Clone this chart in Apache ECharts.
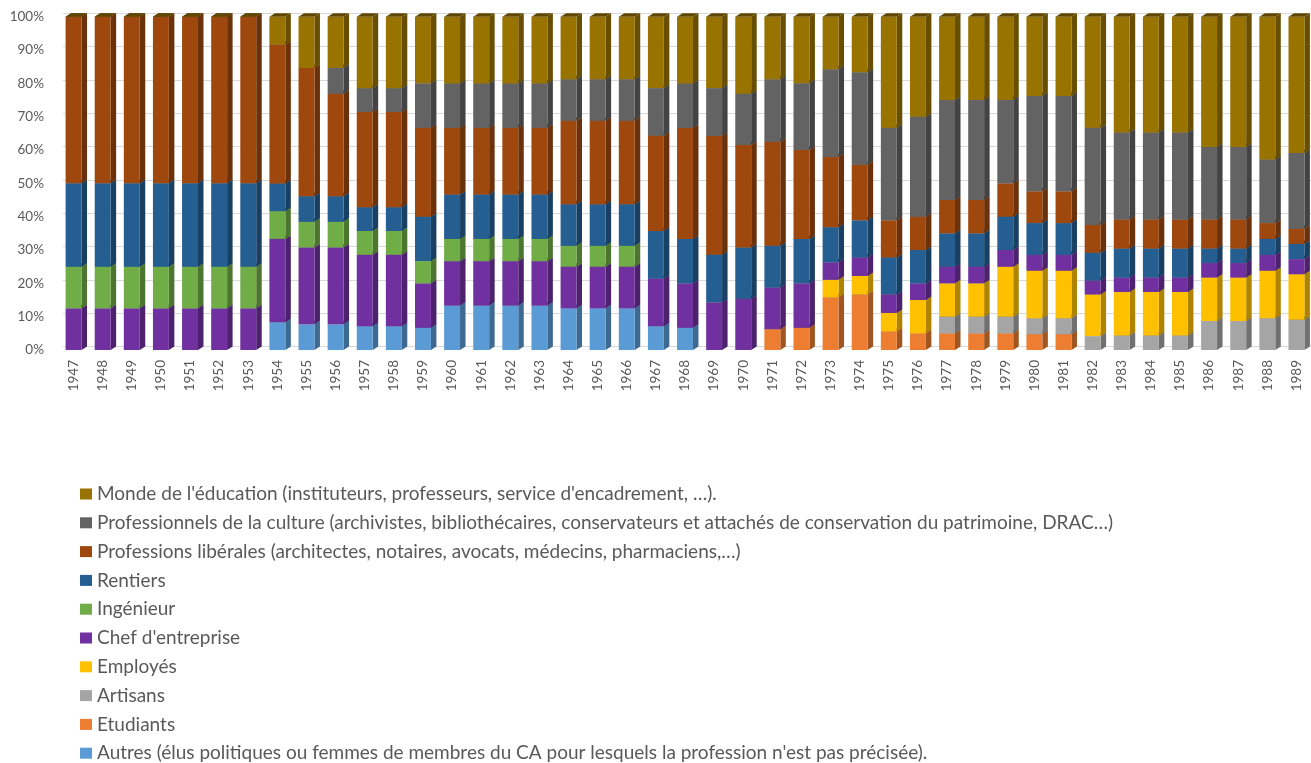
<!DOCTYPE html>
<html><head><meta charset="utf-8">
<script src="https://cdn.jsdelivr.net/npm/echarts@6/dist/echarts.min.js"></script>
<style>html,body{margin:0;padding:0;background:#fff}#c{width:1311px;height:763px}</style>
</head><body><div id="c"></div>
<script>
var years = ['1947','1948','1949','1950','1951','1952','1953','1954','1955','1956','1957','1958','1959','1960','1961','1962','1963','1964','1965','1966','1967','1968','1969','1970','1971','1972','1973','1974','1975','1976','1977','1978','1979','1980','1981','1982','1983','1984','1985','1986','1987','1988','1989'];
var yTicks = ['0%','10%','20%','30%','40%','50%','60%','70%','80%','90%','100%'];

var autres = [0,0,0,0,0,0,0,8.33,7.69,7.69,7.14,7.14,6.67,13.33,13.33,13.33,13.33,12.5,12.5,12.5,7.14,6.67,0,0,0,0,0,0,0,0,0,0,0,0,0,0,0,0,0,0,0,0,0];
var etudiants = [0,0,0,0,0,0,0,0,0,0,0,0,0,0,0,0,0,0,0,0,0,0,0,0,6.25,6.67,15.79,16.67,5.56,5,5,5,5,4.76,4.76,0,0,0,0,0,0,0,0];
var artisans = [0,0,0,0,0,0,0,0,0,0,0,0,0,0,0,0,0,0,0,0,0,0,0,0,0,0,0,0,0,0,5,5,5,4.76,4.76,4.17,4.35,4.35,4.35,8.7,8.7,9.52,9.09];
var employes = [0,0,0,0,0,0,0,0,0,0,0,0,0,0,0,0,0,0,0,0,0,0,0,0,0,0,5.26,5.56,5.56,10,10,10,15,14.29,14.29,12.5,13.04,13.04,13.04,13.04,13.04,14.29,13.64];
var chef = [12.5,12.5,12.5,12.5,12.5,12.5,12.5,25,23.08,23.08,21.43,21.43,13.33,13.33,13.33,13.33,13.33,12.5,12.5,12.5,14.29,13.33,14.29,15.38,12.5,13.33,5.26,5.56,5.56,5,5,5,5,4.76,4.76,4.17,4.35,4.35,4.35,4.35,4.35,4.76,4.55];
var ingenieur = [12.5,12.5,12.5,12.5,12.5,12.5,12.5,8.33,7.69,7.69,7.14,7.14,6.67,6.67,6.67,6.67,6.67,6.25,6.25,6.25,0,0,0,0,0,0,0,0,0,0,0,0,0,0,0,0,0,0,0,0,0,0,0];
var rentiers = [25,25,25,25,25,25,25,8.33,7.69,7.69,7.14,7.14,13.33,13.33,13.33,13.33,13.33,12.5,12.5,12.5,14.29,13.33,14.29,15.38,12.5,13.33,10.53,11.11,11.11,10,10,10,10,9.52,9.52,8.33,8.7,8.7,8.7,4.35,4.35,4.76,4.55];
var liberales = [50,50,50,50,50,50,50,41.67,38.46,30.77,28.57,28.57,26.67,20,20,20,20,25,25,25,28.57,33.33,35.71,30.77,31.25,26.67,21.05,16.67,11.11,10,10,10,10,9.52,9.52,8.33,8.7,8.7,8.7,8.7,8.7,4.76,4.55];
var culture = [0,0,0,0,0,0,0,0,0,7.69,7.14,7.14,13.33,13.33,13.33,13.33,13.33,12.5,12.5,12.5,14.29,13.33,14.29,15.38,18.75,20,26.32,27.78,27.78,30,30,30,25,28.57,28.57,29.17,26.09,26.09,26.09,21.74,21.74,19.05,22.73];
var education = [0,0,0,0,0,0,0,8.33,15.38,15.38,21.43,21.43,20,20,20,20,20,18.75,18.75,18.75,21.43,20,21.43,23.08,18.75,20,15.79,16.67,33.33,30,25,25,25,23.81,23.81,33.33,34.78,34.78,34.78,39.13,39.13,42.86,40.91];

var names = [
  "Autres (élus politiques ou femmes de membres du CA pour lesquels la profession n'est pas précisée).",
  "Etudiants",
  "Artisans",
  "Employés",
  "Chef d'entreprise",
  "Ingénieur",
  "Rentiers",
  "Professions libérales (architectes, notaires, avocats, médecins, pharmaciens,…)",
  "Professionnels de la culture (archivistes, bibliothécaires, conservateurs et attachés de conservation du patrimoine, DRAC…)",
  "Monde de l'éducation (instituteurs, professeurs, service d'encadrement, …)."
];
var values = [autres, etudiants, artisans, employes, chef, ingenieur, rentiers, liberales, culture, education];
var colors = ['#5B9BD5','#ED7D31','#A5A5A5','#FFC000','#7030A0','#70AD47','#255E91','#9E480E','#636363','#997300'];

function shade(hex, f) {
  var n = parseInt(hex.slice(1), 16);
  var r = Math.round(((n >> 16) & 255) * f), g = Math.round(((n >> 8) & 255) * f), b = Math.round((n & 255) * f);
  return 'rgb(' + r + ',' + g + ',' + b + ')';
}

var cum = years.map(function(){ return 0; });
var series = [];
values.forEach(function(arr, si) {
  var data = arr.map(function(v, i) { var lo = cum[i]; cum[i] += v; return [i, lo, lo + v]; });
  var col = colors[si], side = shade(col, 0.68), top = shade(col, 0.62);
  var isLast = si === values.length - 1;
  series.push({
    name: names[si], type: 'custom', coordinateSystem: 'cartesian2d', xAxisIndex: 0, yAxisIndex: 0,
    itemStyle: { color: col },
    encode: { x: 0, y: [1, 2] },
    data: data,
    renderItem: function(params, api) {
      var cat = api.value(0), lo = api.value(1), hi = api.value(2);
      var p0 = api.coord([cat, lo]), p1 = api.coord([cat, hi]);
      var bw = api.size([1, 0])[0] * 0.547, dx = 5.5, dy = 3.5;
      var x0 = p0[0] - bw / 2, x1 = x0 + bw, yb = p0[1], yt = p1[1];
      var ch = [];
      if (hi - lo > 0.0001) {
        ch.push({ type: 'polygon', shape: { points: [[x1, yb], [x1 + dx, yb - dy], [x1 + dx, yt - dy], [x1, yt]] }, style: { fill: side } });
        ch.push({ type: 'rect', shape: { x: x0, y: yt, width: bw, height: yb - yt }, style: { fill: col } });
        ch.push({ type: 'polygon', shape: { points: [[x0, yt], [x0 + dx, yt - dy], [x1 + dx, yt - dy], [x1, yt]] }, style: { fill: top } });
      } else if (isLast) {
        ch.push({ type: 'polygon', shape: { points: [[x0, yt], [x0 + dx, yt - dy], [x1 + dx, yt - dy], [x1, yt]] }, style: { fill: top } });
      }
      return { type: 'group', children: ch };
    },
    z: 3
  });
});

var chart = echarts.init(document.getElementById('c'), null, { renderer: 'canvas' });
chart.setOption({
  animation: false,
  backgroundColor: '#ffffff',
  grid: [
    { left: 59, width: 1258.6, top: 16.7, bottom: 413, containLabel: false },
    { left: 63, right: 0, top: 13.2, bottom: 416.5, containLabel: false }
  ],
  xAxis: [
    { type: 'category', gridIndex: 0, data: years, boundaryGap: true,
      axisLine: { show: false }, axisTick: { show: false }, splitLine: { show: false },
      axisLabel: { rotate: 90, color: '#595959', fontSize: 13.5, fontFamily: 'Lato, Open Sans, sans-serif', margin: 10, interval: 0 } },
    { type: 'value', gridIndex: 1, min: 0, max: 1, show: false }
  ],
  yAxis: [
    { type: 'value', gridIndex: 0, min: 0, max: 100, interval: 10,
      axisLine: { show: false }, axisTick: { show: false }, splitLine: { show: false },
      axisLabel: { color: '#595959', fontSize: 13.5, fontFamily: 'Lato, Open Sans, sans-serif', margin: 15,
        formatter: function(v) { return yTicks[Math.round(v / 10)]; } } },
    { type: 'value', gridIndex: 1, min: 0, max: 100, interval: 10,
      axisLine: { show: false }, axisTick: { show: false }, axisLabel: { show: false },
      splitLine: { show: true, lineStyle: { color: '#D9D9D9', width: 1 } } }
  ],
  legend: {
    orient: 'vertical', left: 80, top: 484.5, height: 300, padding: 0,
    data: names.slice().reverse(),
    icon: 'rect', itemWidth: 12, itemHeight: 11, itemGap: 9.8,
    selectedMode: false,
    textStyle: { color: '#595959', fontSize: 19, lineHeight: 19, fontFamily: 'Lato, Open Sans, sans-serif' }
  },
  series: series
});
</script></body></html>
